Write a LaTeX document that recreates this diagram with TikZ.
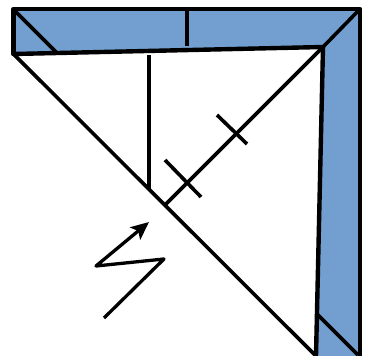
\documentclass[tikz,border=0pt]{standalone}
\usetikzlibrary{arrows.meta}
\definecolor{foldblue}{RGB}{114,159,208}
\tikzset{x=1pt,y=-1pt,
 outline/.style={draw=black,line width=4.4pt,line join=round,line cap=round},
 thin fold/.style={draw=black,line width=3.6pt},
 zig/.style={draw=black,line width=3.3pt,line join=round,-{Stealth[length=18pt,width=16pt,inset=4pt]}}}
\begin{document}
\begin{tikzpicture}
\useasboundingbox (0,0) rectangle (365,356);
\coordinate (tl) at (13.5,9);
\coordinate (tr) at (360,9);
\coordinate (br) at (360,356);
\coordinate (bi) at (316,356);
\coordinate (in) at (323,47);
\coordinate (bl) at (13.5,54);
\coordinate (dm) at (165,205);
\fill[foldblue] (tl) -- (tr) -- (br) -- (bi) -- (in) -- (bl) -- cycle;
\draw[outline] (bl) -- (tl) -- (tr) -- (br);
\draw[outline] (bl) -- (in) -- (bi);
\draw[thin fold] (bl) -- (bi);
\draw[thin fold] (tr) -- (in) -- (dm);
\coordinate (a1) at (14,10); \coordinate (a2) at (57,53);
\draw[thin fold] (a1) -- (a2);
\coordinate (b1) at (187,10); \coordinate (b2) at (187,46);
\draw[thin fold] (b1) -- (b2);
\coordinate (c1) at (149,55); \coordinate (c2) at (149,190);
\draw[thin fold] (c1) -- (c2);
\coordinate (d1) at (165,160); \coordinate (d2) at (201,197);
\draw[thin fold] (d1) -- (d2);
\coordinate (e1) at (217,115); \coordinate (e2) at (247,144);
\draw[thin fold] (e1) -- (e2);
\coordinate (f1) at (316,313); \coordinate (f2) at (358,355);
\draw[thin fold] (f1) -- (f2);
\coordinate (g1) at (104,318); \coordinate (g2) at (164,259); \coordinate (g3) at (96,266); \coordinate (g4) at (149,222);
\draw[zig] (g1) -- (g2) -- (g3) -- (g4);
\end{tikzpicture}
\end{document}
